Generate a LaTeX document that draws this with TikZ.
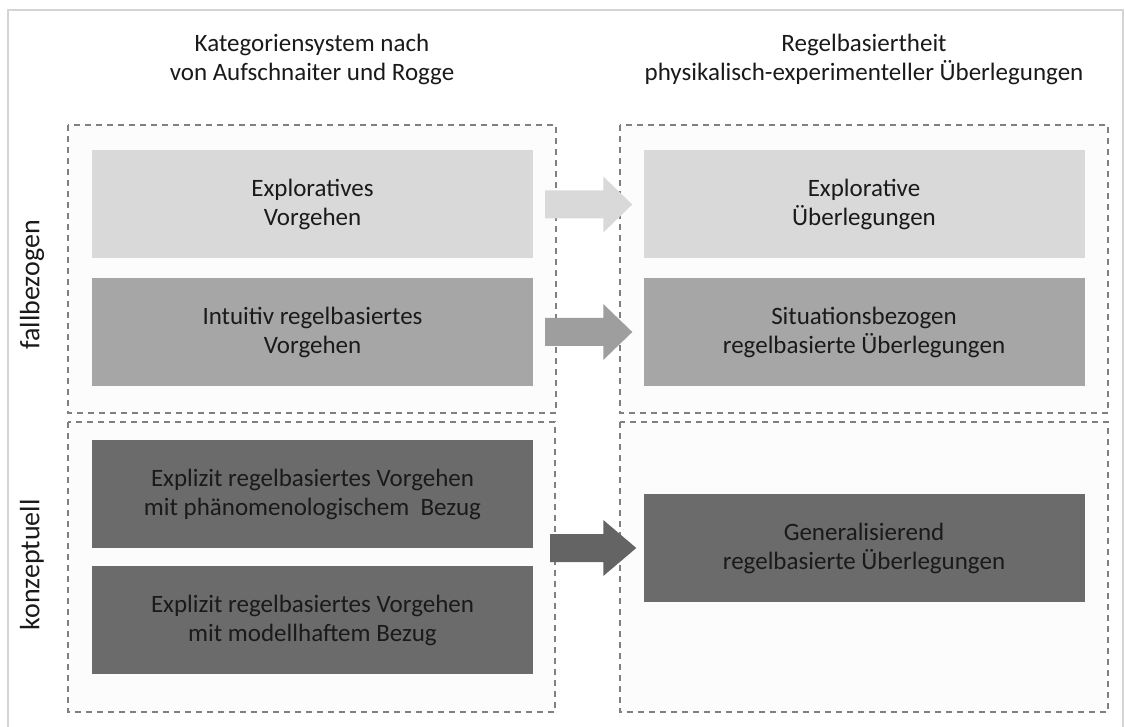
\documentclass[tikz,border=0pt]{standalone}
\usepackage{fontspec}
\setmainfont{Carlito}
\usetikzlibrary{calc}
\definecolor{boxA}{HTML}{D9D9D9}
\definecolor{boxB}{HTML}{A6A6A6}
\definecolor{boxC}{HTML}{6B6B6B}
\definecolor{dashgray}{HTML}{808080}
\definecolor{framegray}{HTML}{D4D4D4}
\definecolor{txt}{HTML}{1A1A1A}
\tikzset{
  catbox/.style={minimum width=441pt, minimum height=108pt, inner sep=0pt, align=center, text=txt,
    font=\fontsize{25}{29}\selectfont},
  lightbox/.style={catbox, fill=boxA},
  midbox/.style={catbox, fill=boxB},
  darkbox/.style={catbox, fill=boxC},
  groupbox/.style={draw=dashgray, dashed, dash pattern=on 6pt off 5pt, line width=1.4pt, fill=white!99!black},
  titletext/.style={align=center, text=txt, font=\fontsize{25}{29}\selectfont},
  sidetext/.style={rotate=90, text=txt, font=\fontsize{28}{30}\selectfont},
}
\newcommand{\blockarrow}[5]{%
  \fill[#3] ($(#1.east |- #2.west)+(#4,-14)$) -- ($(#2.west)+(-40,-14)$) -- ($(#2.west)+(-40,-28)$)
    -- ($(#2.west)+(-#5,0)$) -- ($(#2.west)+(-40,28)$) -- ($(#2.west)+(-40,14)$)
    -- ($(#1.east |- #2.west)+(#4,14)$) -- cycle;}
\begin{document}
\begin{tikzpicture}[x=1pt, y=-1pt]
\useasboundingbox (0,0) rectangle (1125,727);
% outer frame
\draw[framegray, line width=1.5pt] (8,730) -- (8,10) -- (1123,10) -- (1123,730);
% group boxes
\draw[groupbox] (68,125) rectangle (556,413);
\draw[groupbox] (68,422) rectangle (555,712);
\draw[groupbox] (620,125) rectangle (1108,413);
\draw[groupbox] (620,422) rectangle (1108,712);
% titles
\node[titletext] (tl) at (312,59) {Kategoriensystem nach\\von Aufschnaiter und Rogge};
\node[titletext] (tr) at (864,59) {Regelbasiertheit\\physikalisch-experimenteller Überlegungen};
% side labels
\node[sidetext] (sa) at (32,285) {fallbezogen};
\node[sidetext] (sb) at (32,565) {konzeptuell};
% left boxes
\node[lightbox] (l1) at (312.5,204.5) {Exploratives\\Vorgehen};
\node[midbox]   (l2) at (312.5,332) {Intuitiv regelbasiertes\\Vorgehen};
\node[darkbox]  (l3) at (312.5,494) {Explizit regelbasiertes Vorgehen\\mit phänomenologischem\ \ Bezug};
\node[darkbox]  (l4) at (312.5,620) {Explizit regelbasiertes Vorgehen\\mit modellhaftem Bezug};
% right boxes
\node[lightbox] (r1) at (864,204.5) {Explorative\\Überlegungen};
\node[midbox]   (r2) at (864,332) {Situationsbezogen\\regelbasierte Überlegungen};
\node[darkbox]  (r3) at (864,548) {Generalisierend\\regelbasierte Überlegungen};
\coordinate (l34) at ($(l3.south east)!0.5!(l4.north east)$);
% arrows
\blockarrow{l1}{r1}{boxA}{12}{11}
\blockarrow{l2}{r2}{boxB!95!black}{12}{11}
\blockarrow{l34}{r3}{boxC!105!white}{17}{7}
\end{tikzpicture}
\end{document}
